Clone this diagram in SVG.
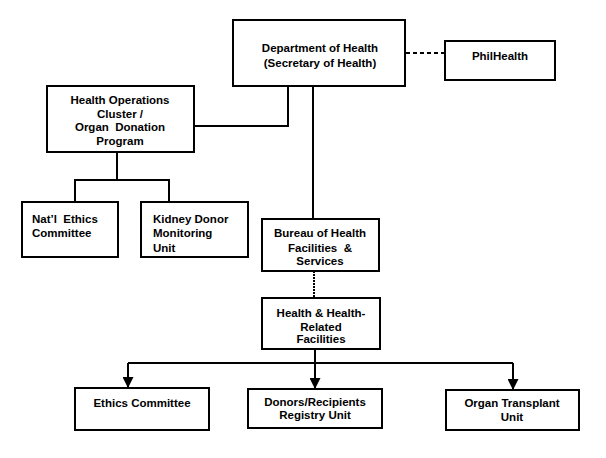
<svg xmlns="http://www.w3.org/2000/svg" width="606" height="458" viewBox="0 0 606 458">
<style>
.box{fill:#fff;stroke:#000;stroke-width:2}
.ln{fill:none;stroke:#000;stroke-width:2}
.t{font-family:"Liberation Sans",Arial,sans-serif;font-size:11.5px;font-weight:bold;fill:#000;text-anchor:middle;white-space:pre}
.tl{text-anchor:start}
</style>
<defs>
<marker id="arr" viewBox="0 0 10 10" refX="10" refY="5" markerWidth="5.5" markerHeight="5.5" orient="auto" markerUnits="strokeWidth">
<path d="M0,0 L10,5 L0,10 Z" fill="#000"/>
</marker>
</defs>
<rect width="606" height="458" fill="#fff"/>
<g id="connectors">
<path class="ln" d="M406,53 H445" stroke-width="4" stroke-dasharray="4,3"/>
<path class="ln" d="M288,86 V126 H194"/>
<path class="ln" d="M313,86 V219"/>
<path class="ln" d="M117,152 V180 M75,202 V180 H169 V202"/>
<path class="ln" d="M314,271 V298" stroke-width="1" stroke-dasharray="2,1"/>
<path class="ln" d="M315,349 V363 M128,363 H513"/>
<path class="ln" d="M128,363 V388" marker-end="url(#arr)"/>
<path class="ln" d="M315,363 V389" marker-end="url(#arr)"/>
<path class="ln" d="M513,363 V390" marker-end="url(#arr)"/>
</g>
<g id="doh"><rect class="box" x="233" y="20" width="172" height="66"/>
<text class="t" x="320" y="52">Department of Health</text>
<text class="t" x="320" y="67">(Secretary of Health)</text></g>
<g id="philhealth"><rect class="box" x="445" y="41" width="110" height="39"/>
<text class="t" x="500" y="60">PhilHealth</text></g>
<g id="hoc"><rect class="box" x="47" y="86" width="147" height="66"/>
<text class="t" x="120" y="104">Health Operations</text>
<text class="t" x="120" y="118">Cluster /</text>
<text class="t" x="120" y="131">Organ  Donation</text>
<text class="t" x="120" y="145">Program</text></g>
<g id="nec"><rect class="box" x="22" y="202" width="96" height="55"/>
<text class="t tl" x="32" y="223">Nat’l  Ethics</text>
<text class="t tl" x="32" y="237">Committee</text></g>
<g id="kdmu"><rect class="box" x="141" y="202" width="107" height="55"/>
<text class="t tl" x="153" y="223">Kidney Donor</text>
<text class="t tl" x="153" y="237">Monitoring</text>
<text class="t tl" x="153" y="252">Unit</text></g>
<g id="bureau"><rect class="box" x="262" y="219" width="117" height="52"/>
<text class="t" x="320" y="237">Bureau of Health</text>
<text class="t" x="320" y="252">Facilities  &amp;</text>
<text class="t" x="320" y="265">Services</text></g>
<g id="hhrf"><rect class="box" x="262" y="298" width="118" height="51"/>
<text class="t" x="321" y="317">Health &amp; Health-</text>
<text class="t" x="321" y="331">Related</text>
<text class="t" x="321" y="343">Facilities</text></g>
<g id="ethics"><rect class="box" x="75" y="388" width="134" height="42"/>
<text class="t" x="142" y="407">Ethics Committee</text></g>
<g id="donors"><rect class="box" x="248" y="389" width="134" height="39"/>
<text class="t" x="315" y="406">Donors/Recipients</text>
<text class="t" x="315" y="419">Registry Unit</text></g>
<g id="otu"><rect class="box" x="446" y="390" width="133" height="40"/>
<text class="t" x="512" y="407">Organ Transplant</text>
<text class="t" x="512" y="421">Unit</text></g>
</svg>
